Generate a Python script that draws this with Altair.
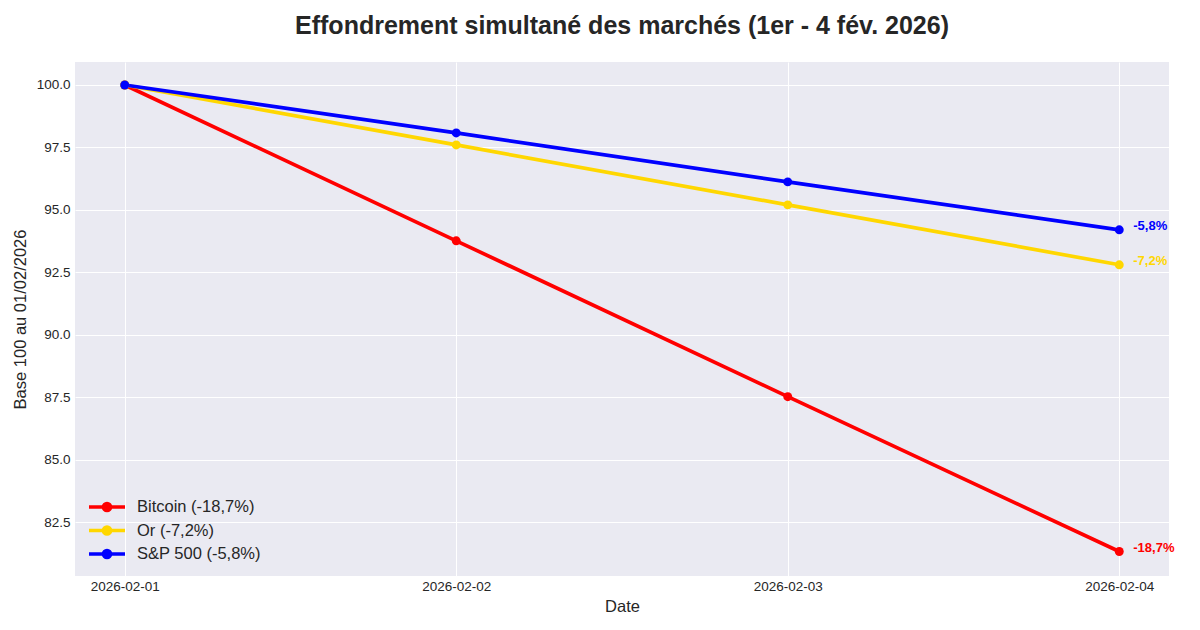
import altair as alt
import pandas as pd

dates = ["2026-02-01", "2026-02-02", "2026-02-03", "2026-02-04"]
series = ["Bitcoin (-18,7%)", "Or (-7,2%)", "S&P 500 (-5,8%)"]
btc = [100.0, 93.76, 87.52, 81.32]
gold = [100.0, 97.60, 95.20, 92.80]
spx = [100.0, 98.08, 96.12, 94.20]
end_labels = ["-18,7%", "-7,2%", "-5,8%"]
colors = ["#ff0000", "#ffd700", "#0000ff"]
y_ticks = [82.5, 85.0, 87.5, 90.0, 92.5, 95.0, 97.5, 100.0]

rows = []
for name, vals in zip(series, [btc, gold, spx]):
    for d, v in zip(dates, vals):
        rows.append({"date": d, "value": v, "serie": name})
df = pd.DataFrame(rows)

end_df = pd.DataFrame({
    "date": [dates[-1]] * 3,
    "value": [btc[-1], gold[-1], spx[-1]],
    "serie": series,
    "label": end_labels,
})

FONT = "Liberation Sans"
TXT = "#262626"

x_enc = alt.X("date:O", title="Date",
              scale=alt.Scale(type="point", padding=0.15),
              axis=alt.Axis(labelAngle=0, grid=True, gridColor="white", gridWidth=1,
                            domain=False, ticks=False, labelFontSize=13.5, labelColor=TXT,
                            labelPadding=3, titleFontSize=16.5, titleFontWeight="normal",
                            titleColor=TXT, titlePadding=6, labelFont=FONT, titleFont=FONT))
y_enc = alt.Y("value:Q", title="Base 100 au 01/02/2026",
              scale=alt.Scale(domain=[80.34, 100.92], nice=False, zero=False),
              axis=alt.Axis(values=y_ticks, format=".1f", grid=True, gridColor="white", gridWidth=1,
                            domain=False, ticks=False, labelFontSize=13.5, labelColor=TXT,
                            labelPadding=5, titleFontSize=16.5, titleFontWeight="normal",
                            titleColor=TXT, titlePadding=8, labelFont=FONT, titleFont=FONT))
color_enc = alt.Color("serie:N", scale=alt.Scale(domain=series, range=colors),
                      legend=alt.Legend(title=None, orient="none", legendX=21, legendY=434,
                                        labelFontSize=16.5, labelFont=FONT, labelColor=TXT,
                                        symbolType="M-2,0H2M-0.4,0a0.4,0.4 0 1,0 0.8,0a0.4,0.4 0 1,0 -0.8,0",
                                        symbolSize=324, symbolStrokeWidth=3.5,
                                        rowPadding=1.5, labelOffset=19))

lines = alt.Chart(df).mark_line(strokeWidth=3.7).encode(x=x_enc, y=y_enc, color=color_enc)
points = alt.Chart(df).mark_point(filled=True, size=80, opacity=1).encode(
    x="date:O", y="value:Q", color=alt.Color("serie:N", scale=alt.Scale(domain=series, range=colors)))
texts = alt.Chart(end_df).mark_text(align="left", baseline="middle", dx=14, dy=-4,
                                    fontWeight="bold", fontSize=13, font=FONT).encode(
    x="date:O", y="value:Q", text="label:N",
    color=alt.Color("serie:N", scale=alt.Scale(domain=series, range=colors), legend=None))

chart = alt.layer(lines, points, texts).properties(
    width=1094, height=514,
    title=alt.TitleParams("Effondrement simultané des marchés (1er - 4 fév. 2026)",
                          fontSize=25, font=FONT, fontWeight="bold", color=TXT,
                          anchor="middle", offset=23),
    autosize=alt.AutoSizeParams(type="none"),
    padding={"left": 75, "top": 62, "right": 31, "bottom": 54},
    background="white",
).configure_view(fill="#eaeaf2", stroke=None)

chart.save("out.html", embed_options={"renderer": "svg", "actions": False})
